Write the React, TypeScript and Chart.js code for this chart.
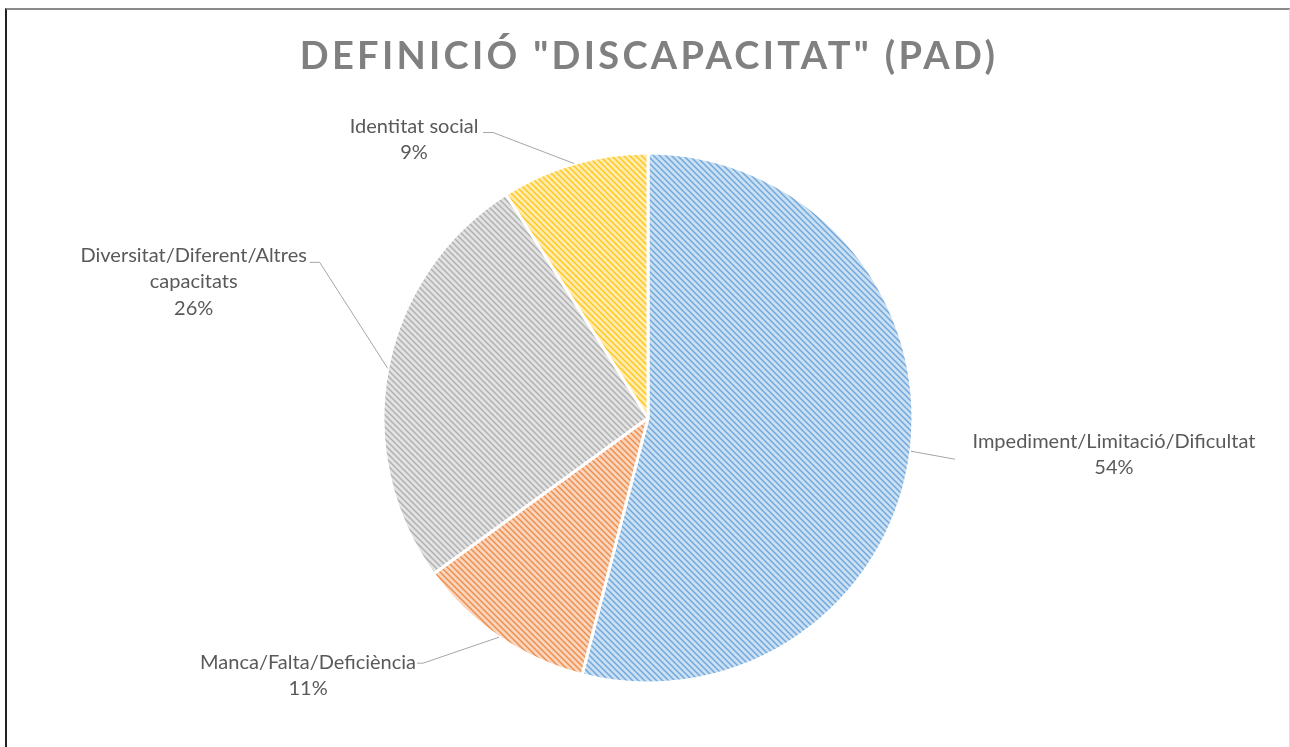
import React, { useEffect, useRef } from "react";
import { Chart, registerables } from "chart.js";

Chart.register(...registerables);

const TITLE = 'DEFINICIÓ "DISCAPACITAT" (PAD)';
const categories = [
  "Impediment/Limitació/Dificultat",
  "Manca/Falta/Deficiència",
  "Diversitat/Diferent/Altres capacitats",
  "Identitat social",
];
const labelLines = [
  ["Impediment/Limitació/Dificultat"],
  ["Manca/Falta/Deficiència"],
  ["Diversitat/Diferent/Altres", "capacitats"],
  ["Identitat social"],
];
const values = [54, 11, 26, 9];
const colors = ["#5B9BD5", "#ED7D31", "#A5A5A5", "#FFC000"];

// label placement relative to the slice's outer edge point at its mid angle
const labelLayout = [
  { tx: 203, ty: -10, ex: 44, ey: 8, hx: 44 },
  { tx: -191, ty: 25, ex: -76, ey: 26, hx: -82 },
  { tx: -194, ty: -113, ex: -68, ey: -106, hx: -78 },
  { tx: -160, ty: -37, ex: -81, ey: -31, hx: -91 },
];

function hexToRgb(h: string) {
  const n = parseInt(h.slice(1), 16);
  return [(n >> 16) & 255, (n >> 8) & 255, n & 255];
}

function mix(rgb: number[], t: number) {
  return rgb.map((v) => Math.round(255 - (255 - v) * t));
}

function makePattern(color: string): CanvasPattern | string {
  const size = 6;
  const tile = document.createElement("canvas");
  tile.width = size;
  tile.height = size;
  const ctx = tile.getContext("2d");
  if (!ctx) return color;
  const rgb = hexToRgb(color);
  const dark = mix(rgb, 0.9);
  const mid = mix(rgb, 0.6);
  const light = mix(rgb, 0.32);
  const img = ctx.createImageData(size, size);
  for (let y = 0; y < size; y++) {
    for (let x = 0; x < size; x++) {
      const k = (((x - y) % size) + size) % size;
      const c = k === 0 ? dark : k === 1 || k === 5 ? mid : light;
      const i = (y * size + x) * 4;
      img.data[i] = c[0];
      img.data[i + 1] = c[1];
      img.data[i + 2] = c[2];
      img.data[i + 3] = 255;
    }
  }
  ctx.putImageData(img, 0, 0);
  const p = ctx.createPattern(tile, "repeat");
  return p || color;
}

const LABEL_FONT = '20px Lato, "Noto Sans", sans-serif';
const LABEL_COLOR = "#595959";
const LINE_H = 26.5;

const labelsPlugin = {
  id: "outerLabels",
  afterDatasetsDraw(chart: any) {
    const ctx = chart.ctx as CanvasRenderingContext2D;
    const meta = chart.getDatasetMeta(0);
    const ds = chart.data.datasets[0].data as number[];
    const total = ds.reduce((a, b) => a + b, 0);
    ctx.save();
    meta.data.forEach((arc: any, i: number) => {
      const { x, y, startAngle, endAngle, outerRadius } = arc.getProps(
        ["x", "y", "startAngle", "endAngle", "outerRadius"],
        true
      );
      const mid = (startAngle + endAngle) / 2;
      const px = x + Math.cos(mid) * outerRadius;
      const py = y + Math.sin(mid) * outerRadius;
      const L = labelLayout[i];
      ctx.strokeStyle = "#A6A6A6";
      ctx.lineWidth = 1;
      ctx.beginPath();
      ctx.moveTo(px, py);
      ctx.lineTo(px + L.ex, py + L.ey);
      ctx.lineTo(px + L.hx, py + L.ey);
      ctx.stroke();
      ctx.fillStyle = LABEL_COLOR;
      ctx.font = LABEL_FONT;
      ctx.textAlign = "center";
      ctx.textBaseline = "middle";
      const lines = [...labelLines[i], Math.round((ds[i] / total) * 100) + "%"];
      lines.forEach((t, j) => {
        ctx.fillText(t, px + L.tx, py + L.ty + j * LINE_H);
      });
    });
    ctx.restore();
  },
};

const titlePlugin = {
  id: "spacedTitle",
  afterDraw(chart: any) {
    const ctx = chart.ctx as CanvasRenderingContext2D;
    ctx.save();
    ctx.font = 'bold 38px Lato, "Noto Sans", sans-serif';
    (ctx as any).letterSpacing = "3.3px";
    ctx.fillStyle = "#808080";
    ctx.textAlign = "center";
    ctx.textBaseline = "middle";
    ctx.fillText(TITLE, 649, 57);
    ctx.restore();
  },
};

export default function App() {
  const ref = useRef<HTMLCanvasElement | null>(null);
  useEffect(() => {
    if (!ref.current) return;
    const chart = new Chart(ref.current, {
      type: "pie",
      data: {
        labels: categories,
        datasets: [
          {
            data: values,
            backgroundColor: colors.map(makePattern) as any,
            borderColor: "#ffffff",
            borderWidth: 3,
          },
        ],
      },
      options: {
        animation: false,
        responsive: false,
        devicePixelRatio: 1,
        layout: {
          padding: { left: 381.5, right: 375.5, top: 151.5, bottom: 62.5 },
        },
        plugins: {
          legend: { display: false },
          title: { display: false },
          tooltip: { enabled: false },
        },
      },
      plugins: [labelsPlugin, titlePlugin],
    });
    return () => chart.destroy();
  }, []);

  return (
    <div
      style={{
        position: "fixed",
        left: 0,
        top: 0,
        width: 1290,
        height: 747,
        overflow: "hidden",
        background: "#ffffff",
      }}
    >
      <canvas
        ref={ref}
        width={1290}
        height={747}
        style={{ position: "absolute", left: 0, top: 0, width: 1290, height: 747 }}
      />
      <div
        style={{
          position: "absolute",
          left: 5,
          top: 8,
          width: 1282,
          height: 800,
          borderTop: "2px solid #8a8a8a",
          borderLeft: "2px solid #222222",
          borderRight: "1px solid #dddddd",
          pointerEvents: "none",
        }}
      />
    </div>
  );
}
